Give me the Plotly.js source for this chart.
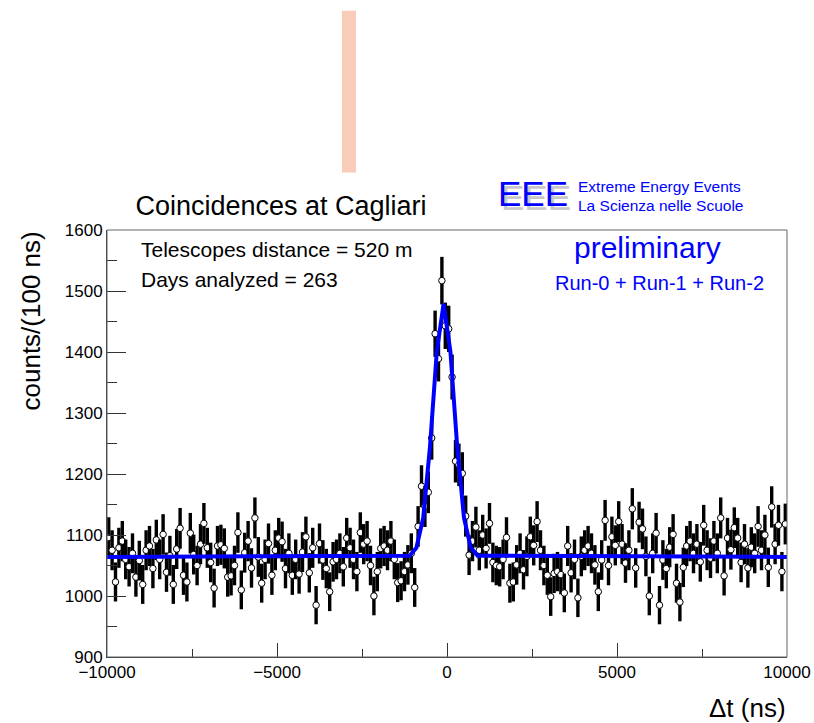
<!DOCTYPE html>
<html>
<head>
<meta charset="utf-8">
<script src="https://cdn.plot.ly/plotly-3.0.1.min.js"></script>
<style>html,body{margin:0;padding:0;background:#fff}#chart{width:814px;height:723px}</style>
</head>
<body>
<div id="chart"></div>
<script>
// Histogram definition (100 ns bins)
const nBins = 200;
const xMin = -10000;
const xMax = 10000;

// counts per 100 ns bin (left to right)
const counts = [
  1096,1075,1023,1079,1090,1060,1048,1070,1031,1058, 1019,1075,1082,1045,1092,1060,1101,1039,1066,1019,
  1077,1111,1034,1023,1103,1068,1050,1085,1119,1079, 1055,1013,1082,1084,1078,1031,1033,1050,1104,1010,
  1071,1090,1046,1128,1064,1021,1060,1086,1034,1075, 1095,1089,1045,1070,1034,1060,1036,1072,1097,1038,
  1079,985,1086,1059,1045,1007,1056,1060,1070,1048, 1095,1079,1060,1040,1104,1085,1090,1050,1000,1040,
  1078,1082,1075,1090,1060,1022,1025,1040,1051,1070, 1014,1114,1180,1147,1170,1259,1430,1389,1517,1443,
  1438,1359,1221,1215,1201,1131,1067,1090,1113,1075, 1100,1078,1119,1055,1050,1048,1060,1096,1021,1023,
  1051,1070,1043,1065,1097,1083,1122,1075,1050,1034, 999,1037,1040,1035,1005,1082,1038,1060,997,1065,
  1075,1082,1070,1051,1007,1059,1124,1050,1097,1083, 1122,1085,1054,1075,1143,1046,1121,1110,1065,1000,
  1070,1103,985,1059,1045,1080,1101,1021,990,1047, 1082,1090,1070,1085,1056,1116,1075,1062,1090,1070,
  1128,1033,1095,1076,1112,1095,1055,1085,1046,1080, 1070,1114,1075,1100,1047,1146,1085,1116,1040,1118
];

// fitted curve (constant + gaussian) as drawn
const fitX = [-10000,-1100,-900,-700,-500,-300,-100,100,300,500,700,900,10000];
const fitY = [1064,1066,1079,1128,1245,1401,1479,1401,1245,1128,1079,1066,1064];

// axis tick labels
const xTickVals = [-10000, -5000, 0, 5000, 10000];
const xTickText = ['\u221210000', '\u22125000', '0', '5000', '10000'];
const yTickVals = [900, 1000, 1100, 1200, 1300, 1400, 1500, 1600];
const yTickText = ['900', '1000', '1100', '1200', '1300', '1400', '1500', '1600'];

// texts
const titleText = 'Coincidences at Cagliari';
const yTitle = 'counts/(100 ns)';
const xTitle = 'Δt (ns)';
const infoLines = ['Telescopes distance = 520 m', 'Days analyzed = 263'];
const logoBig = 'EEE';
const logoLines = ['Extreme Energy Events', 'La Scienza nelle Scuole'];
const prelim = 'preliminary';
const runs = 'Run-0 + Run-1 + Run-2';

// ---- build ----
const W = 814, H = 723;
const L = 107, R = 787, T = 229.5, B = 657;
const fx = p => (p - L) / (R - L);
const fy = p => (B - p) / (B - T);
const binW = (xMax - xMin) / nBins;

const traces = [];
// one trace per bin so each bin draws bar then marker (ROOT-like overlap)
for (let i = 0; i < nBins; i++) {
  traces.push({
    type: 'scatter', mode: 'markers',
    x: [xMin + (i + 0.5) * binW], y: [counts[i]],
    error_y: {type: 'sqrt', color: '#000', thickness: 3.4, width: 0},
    marker: {symbol: 'circle', size: 6.5, color: '#fff', line: {color: '#000', width: 1}},
    showlegend: false, hoverinfo: 'skip'
  });
}
traces.push({
  type: 'scatter', mode: 'lines', x: fitX, y: fitY,
  line: {color: '#0000ff', width: 4}, showlegend: false, hoverinfo: 'skip'
});

const font = 'Liberation Sans, Arial, Helvetica, sans-serif';
const ann = [];
function txt(text, px, py, size, color, xanchor, extra) {
  ann.push(Object.assign({
    text: text, xref: 'paper', yref: 'paper', x: fx(px), y: fy(py),
    xanchor: xanchor || 'left', yanchor: 'middle', showarrow: false, borderpad: 0,
    font: {family: font, size: size, color: color || '#000'}
  }, extra || {}));
}
txt(infoLines[0], 140, 249, 21);
txt(infoLines[1], 140, 279, 21);
txt(logoBig, 500, 197, 35, '#c8c8c8');
txt(logoBig, 497, 193, 35, '#0000ff');
txt(logoLines[0], 577, 186, 15.5, '#0000ff');
txt(logoLines[1], 577, 205, 15.5, '#0000ff');
txt(prelim, 573, 247, 30, '#0000ff');
txt(runs, 554, 283, 20, '#0000ff');
txt(xTitle, 787, 708, 26, '#000', 'right');
ann.push({text: yTitle, xref: 'paper', yref: 'paper', x: fx(30), y: 1,
  xanchor: 'center', yanchor: 'top', textangle: -90, showarrow: false,
  font: {family: font, size: 26, color: '#000'}});

const layout = {
  width: W, height: H,
  margin: {l: L, r: W - R, t: T, b: H - B, pad: 0},
  paper_bgcolor: '#fff', plot_bgcolor: '#fff',
  showlegend: false,
  font: {family: font, color: '#000'},
  title: {text: titleText, font: {family: font, size: 27, color: '#000'},
    xref: 'container', yref: 'container', x: 281 / W, y: 1 - 206 / H,
    xanchor: 'center', yanchor: 'middle'},
  xaxis: {range: [xMin, xMax], showgrid: false, zeroline: false,
    showline: true, linecolor: '#333', linewidth: 1,
    ticks: 'inside', ticklen: 14, tickwidth: 1, tickcolor: '#333',
    tickmode: 'array', tickvals: xTickVals, ticktext: xTickText,
    minor: {ticks: 'inside', ticklen: 8, tickmode: 'linear', tick0: 0, dtick: 2500, tickcolor: '#333', showgrid: false},
    tickfont: {family: font, size: 17, color: '#000'}},
  yaxis: {range: [900, 1600], showgrid: false, zeroline: false,
    showline: true, linecolor: '#333', linewidth: 1,
    ticks: 'inside', ticklen: 19, tickwidth: 1, tickcolor: '#333',
    tickmode: 'array', tickvals: yTickVals, ticktext: yTickText,
    minor: {ticks: 'inside', ticklen: 10, tickmode: 'linear', tick0: 0, dtick: 50, tickcolor: '#333', showgrid: false},
    tickfont: {family: font, size: 17, color: '#000'}},
  annotations: ann,
  shapes: [
    {type: 'rect', xref: 'paper', yref: 'paper', x0: 0, x1: 1, y0: 0, y1: 1,
      line: {color: '#666', width: 1}, fillcolor: 'rgba(0,0,0,0)'},
    {type: 'rect', xref: 'paper', yref: 'paper', x0: fx(342), x1: fx(356), y0: fy(172), y1: fy(10),
      line: {width: 0}, fillcolor: '#f8ccb8'}
  ]
};

Plotly.newPlot('chart', traces, layout, {staticPlot: true, displayModeBar: false});
</script>
</body>
</html>
